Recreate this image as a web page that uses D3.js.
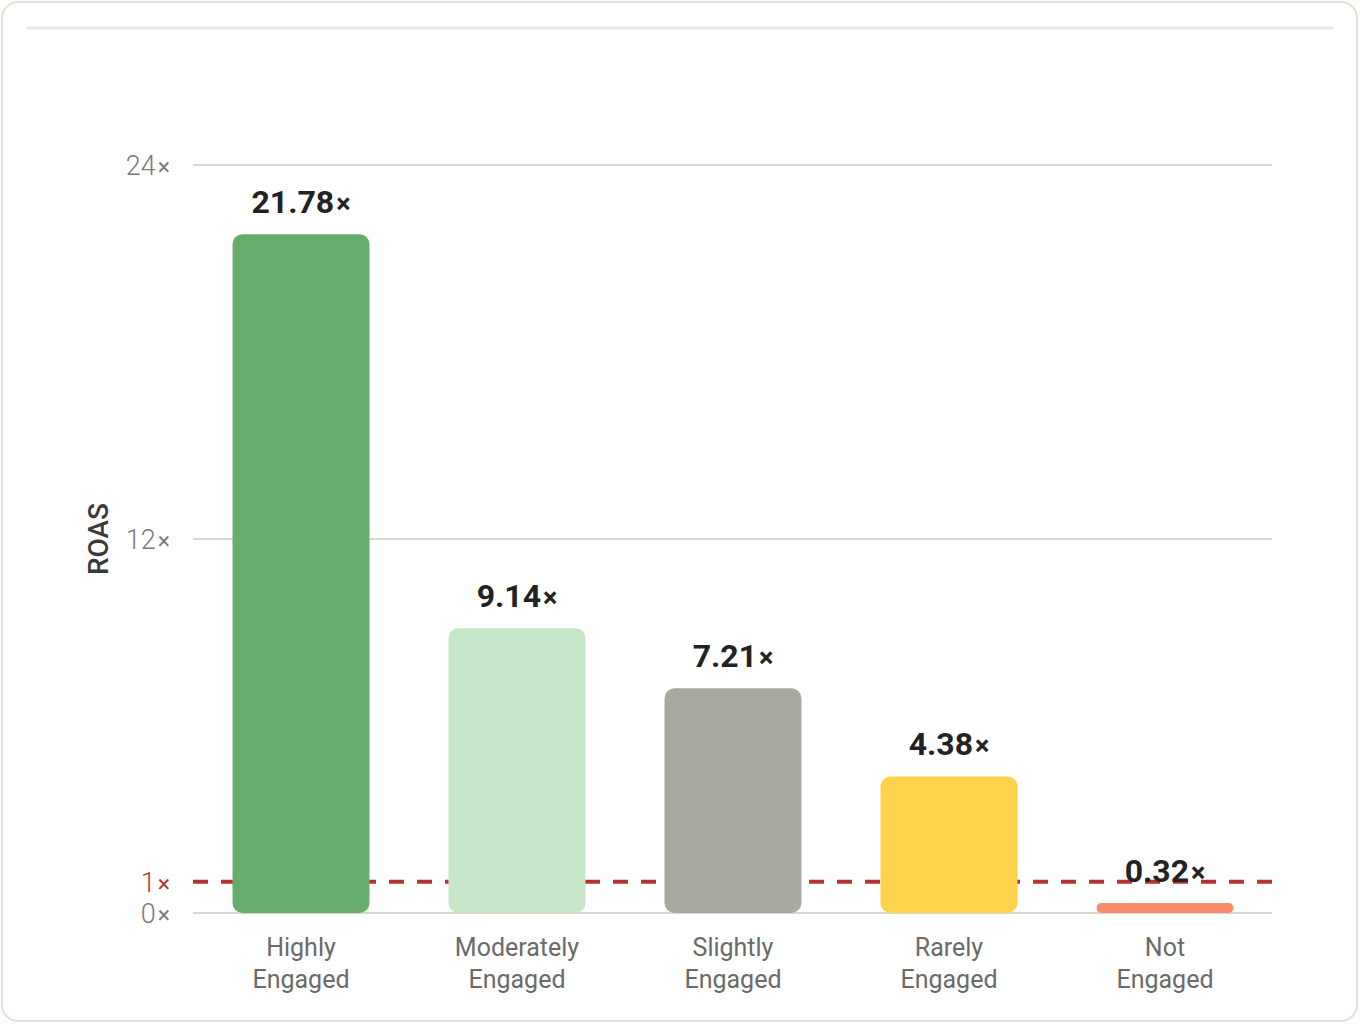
<!DOCTYPE html>
<html>
<head>
<meta charset="utf-8">
<script src="https://cdn.jsdelivr.net/npm/d3@7"></script>
<style>
  html, body { margin: 0; padding: 0; background: #fff; }
  svg { display: block; font-family: Roboto, "Noto Sans", sans-serif; }
</style>
</head>
<body>
<div id="chart"></div>
<script>
// Data
const categories = [['Highly', 'Engaged'], ['Moderately', 'Engaged'], ['Slightly', 'Engaged'], ['Rarely', 'Engaged'], ['Not', 'Engaged']];
const roasValues = [21.78, 9.14, 7.21, 4.38, 0.32];
const barColors = ['#66ac6a', '#c6e6c8', '#aaa9a1', '#fdd449', '#f98c6a'];
const yTicks = [0, 12, 24];
const breakEven = 1;
const yTitle = 'ROAS';

const W = 1360, H = 1024;
const svg = d3.select('#chart').append('svg')
    .attr('width', W)
    .attr('height', H);

// Card frame
svg.append('rect')
    .attr('x', 2).attr('y', 2)
    .attr('width', W - 5).attr('height', H - 5)
    .attr('rx', 16)
    .attr('fill', '#fff')
    .attr('stroke', '#e4e0d5')
    .attr('stroke-width', 2);

svg.append('line')
    .attr('x1', 27).attr('x2', 1333)
    .attr('y1', 28).attr('y2', 28)
    .attr('stroke', '#ebe9e1')
    .attr('stroke-width', 3);

// Scales
const labelsKey = categories.map(d => d.join(' '));
const x = d3.scaleBand()
    .domain(labelsKey)
    .range([193, 1273])
    .paddingInner(0.366)
    .paddingOuter(0.183);

const y = d3.scaleLinear()
    .domain([0, 24])
    .range([913, 165]);

// Grid lines
svg.append('g')
    .selectAll('line')
    .data(yTicks)
    .enter()
    .append('line')
    .attr('x1', 193)
    .attr('x2', 1272)
    .attr('y1', d => y(d))
    .attr('y2', d => y(d))
    .attr('stroke', '#d9d7ce')
    .attr('stroke-width', 2);

// Y tick labels
const tickG = svg.append('g');
const tickLabel = (g, v, color) => {
    const t = g.append('text')
        .attr('x', 170)
        .attr('y', y(v))
        .attr('dy', '0.36em')
        .attr('text-anchor', 'end')
        .attr('fill', color)
        .style('font-size', '27px')
        .style('font-weight', '300');
    t.append('tspan').text(v);
    t.append('tspan').style('font-size', '23px').style('font-weight', '400').attr('dx', 2).text('×');
};
yTicks.forEach(v => tickLabel(tickG, v, '#7a7a7a'));
tickLabel(tickG, breakEven, '#b8332f');

// Y axis title
svg.append('text')
    .attr('transform', `translate(108, ${y(12)}) rotate(-90)`)
    .attr('text-anchor', 'middle')
    .attr('fill', '#3a3a3a')
    .style('font-size', '28px')
    .style('font-weight', '500')
    .text(yTitle);

// Break-even dashed line (drawn behind bars)
svg.append('line')
    .attr('x1', 193)
    .attr('x2', 1272)
    .attr('y1', y(breakEven))
    .attr('y2', y(breakEven))
    .attr('stroke', '#b8332f')
    .attr('stroke-width', 4)
    .attr('stroke-dasharray', '15 13');

// Bars
const data = labelsKey.map((k, i) => ({ key: k, lines: categories[i], value: roasValues[i], color: barColors[i] }));

svg.append('g')
    .selectAll('rect')
    .data(data)
    .enter()
    .append('rect')
    .attr('x', d => x(d.key))
    .attr('width', x.bandwidth())
    .attr('y', d => y(d.value))
    .attr('height', d => y(0) - y(d.value))
    .attr('rx', d => Math.min(10, (y(0) - y(d.value)) / 2))
    .attr('fill', d => d.color);

// Value labels
const valG = svg.append('g');
data.forEach(d => {
    const t = valG.append('text')
        .attr('x', x(d.key) + x.bandwidth() / 2)
        .attr('y', y(d.value) - 21)
        .attr('text-anchor', 'middle')
        .attr('fill', '#222')
        .style('font-size', '32px')
        .style('font-weight', 'bold');
    t.append('tspan').text(d.value.toFixed(2));
    t.append('tspan').style('font-size', '27px').attr('dx', 2).text('×');
});

// X labels
const xLab = svg.append('g');
data.forEach(d => {
    const t = xLab.append('text')
        .attr('x', x(d.key) + x.bandwidth() / 2)
        .attr('y', 956)
        .attr('text-anchor', 'middle')
        .attr('fill', '#6a6a6a')
        .style('font-size', '25px');
    d.lines.forEach((ln, j) => {
        t.append('tspan')
            .attr('x', x(d.key) + x.bandwidth() / 2)
            .attr('dy', j === 0 ? 0 : 32)
            .text(ln);
    });
});
</script>
</body>
</html>
